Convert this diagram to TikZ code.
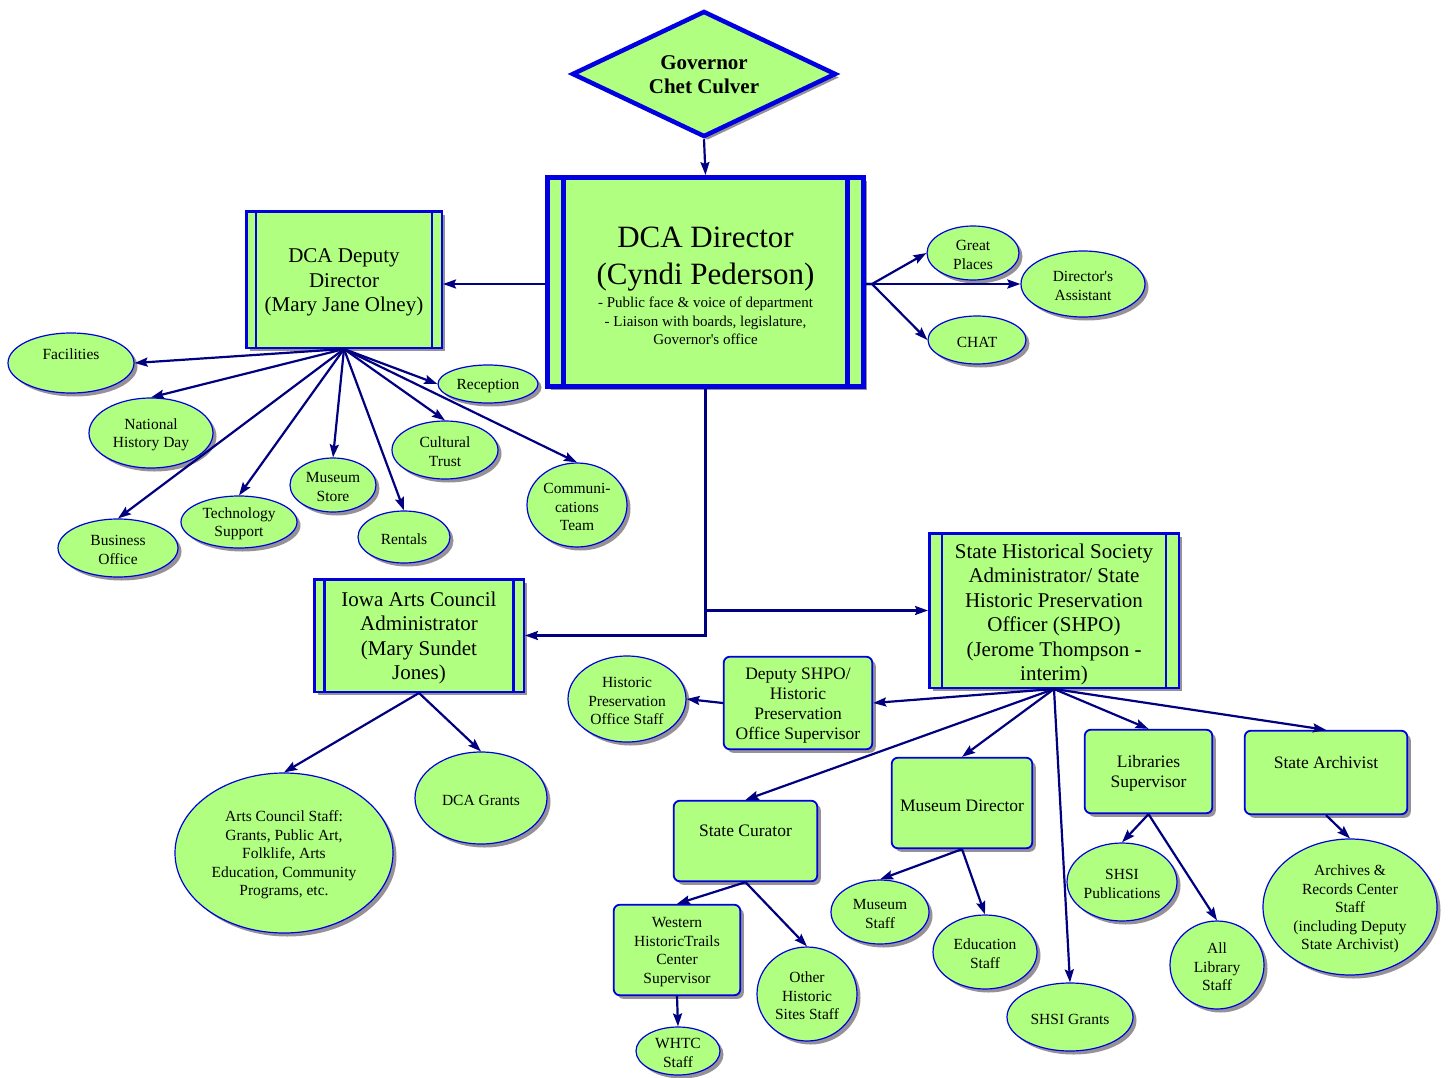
\documentclass[tikz,border=0pt]{standalone}
\usepackage{fontspec}
\setmainfont{Liberation Serif}[Ligatures=TeXOff]
\usetikzlibrary{shapes.geometric,shadows,arrows.meta,calc}
\definecolor{grn}{RGB}{176,255,128}
\definecolor{bdr}{RGB}{0,0,225}
\definecolor{nav}{RGB}{0,0,128}
\definecolor{shd}{RGB}{150,145,150}
\newcommand\setfs[2]{\fontsize{#1}{#2}\selectfont}
\newcommand\upstrut{\rule{0pt}{0.93em}}
\begin{document}
\begin{tikzpicture}[x=1pt,y=-1pt,
 sh/.style={drop shadow={shadow xshift=3.5pt,shadow yshift=-3.5pt,fill=shd,opacity=1}},
 ell/.style={ellipse,draw=bdr,fill=grn,line width=1.2pt,sh,inner sep=0pt,align=center,font=\setfs{15.5}{18.5}},
 rbox/.style={rectangle,rounded corners=6pt,draw=bdr,fill=grn,line width=1.8pt,sh,inner sep=0pt,align=center,font=\setfs{17.5}{20}},
 dbox/.style={rectangle,draw=bdr,fill=grn,line width=2.5pt,sh,inner sep=0pt,align=center,font=\setfs{21}{24.5}},
 bar/.style={draw=bdr,line width=2.5pt},
 conn/.style={draw=nav,line width=2.2pt,-{Stealth[length=13pt,width=9pt,inset=2pt]}},
]
\useasboundingbox (0,0) rectangle (1450,1078);

% Governor
\node[diamond,aspect=2.08,draw=bdr,fill=grn,line width=4.5pt,sh,inner sep=0pt,
  minimum width=264,minimum height=126,align=center,font=\bfseries\setfs{21}{24}]
  (gov) at (704,74) {\rule{0pt}{16pt}Governor\\Chet Culver};

% DCA Director
\node[rectangle,draw=bdr,fill=grn,line width=5pt,sh,inner sep=0pt,minimum width=316,minimum height=209,
  align=center,font=\setfs{31}{37}] (dca) at (705.5,282)
  {\rule{0pt}{34pt}DCA Director\\(Cyndi Pederson)\\[-14pt]{\setfs{15}{18.5}\begin{tabular}[t]{@{}c@{}}- Public face \& voice of department\\- Liaison with boards, legislature,\\Governor's office\end{tabular}}};
\draw[draw=bdr,line width=5pt] ([xshift=18.5pt]dca.north west) -- ([xshift=18.5pt]dca.south west);
\draw[draw=bdr,line width=5pt] ([xshift=-18.5pt]dca.north east) -- ([xshift=-18.5pt]dca.south east);

% double-bar boxes
\node[dbox,minimum width=195.5,minimum height=136.5] (dep) at (344,279.5) {\upstrut DCA Deputy\\Director\\(Mary Jane Olney)};
\draw[bar] ([xshift=11pt]dep.north west) -- ([xshift=11pt]dep.south west);
\draw[bar] ([xshift=-11pt]dep.north east) -- ([xshift=-11pt]dep.south east);

\node[dbox,minimum width=209.5,minimum height=112.5] (iac) at (419,635.5) {\upstrut Iowa Arts Council\\Administrator\\(Mary Sundet\\Jones)};
\draw[bar] ([xshift=11.5pt]iac.north west) -- ([xshift=11.5pt]iac.south west);
\draw[bar] ([xshift=-11.5pt]iac.north east) -- ([xshift=-11.5pt]iac.south east);

\node[dbox,minimum width=249.5,minimum height=154.5] (shs) at (1054,610.5) {\rule{0pt}{22pt}State Historical Society\\Administrator/ State\\Historic Preservation\\Officer (SHPO)\\(Jerome Thompson -\\interim)};
\draw[bar] ([xshift=14pt]shs.north west) -- ([xshift=14pt]shs.south west);
\draw[bar] ([xshift=-14pt]shs.north east) -- ([xshift=-14pt]shs.south east);

% rounded boxes
\node[rbox,minimum width=148.5,minimum height=92.5] (dshpo) at (798,703) {\upstrut Deputy SHPO/\\Historic\\Preservation\\Office Supervisor};
\node[rbox,minimum width=143.5,minimum height=80.5,text depth=25.1pt] (scur) at (745.5,841) {\upstrut State Curator};
\node[rbox,minimum width=140.5,minimum height=90.5] (mdir) at (962,803) {\upstrut Museum Director};
\node[rbox,minimum width=127.5,minimum height=83.5] (lib) at (1148.5,771.5) {\upstrut Libraries\\Supervisor};
\node[rbox,minimum width=162.5,minimum height=83.5,text depth=24.1pt] (sarc) at (1326,772.5) {\upstrut State Archivist};
\node[rbox,minimum width=126.5,minimum height=90.5,font=\setfs{15.5}{18.5}] (west) at (677,950) {\upstrut Western\\HistoricTrails\\Center\\Supervisor};

% ellipses
\node[ell,minimum width=126,minimum height=60,text depth=20.7pt] (fac) at (71,363) {\upstrut Facilities};
\node[ell,minimum width=100,minimum height=38] (rec) at (488,384) {\upstrut Reception};
\node[ell,minimum width=124,minimum height=70] (nhd) at (151,433) {\upstrut National\\History Day};
\node[ell,minimum width=120,minimum height=58] (bus) at (118,548) {\upstrut Business\\Office};
\node[ell,minimum width=116,minimum height=52] (tech) at (239,522) {\upstrut Technology\\Support};
\node[ell,minimum width=86,minimum height=54] (mstore) at (333,485) {\upstrut Museum\\Store};
\node[ell,minimum width=92,minimum height=52] (rent) at (404,537) {\upstrut Rentals};
\node[ell,minimum width=106,minimum height=58] (ctrust) at (445,450) {\upstrut Cultural\\Trust};
\node[ell,minimum width=100,minimum height=84] (comm) at (577,505) {\upstrut Communi-\\cations\\Team};
\node[ell,minimum width=92,minimum height=54] (gp) at (973,253) {\upstrut Great\\Places};
\node[ell,minimum width=124,minimum height=66] (dass) at (1083,284) {\upstrut Director's\\Assistant};
\node[ell,minimum width=98,minimum height=48] (chat) at (977,340) {\upstrut CHAT};
\node[ell,minimum width=118,minimum height=86] (hpos) at (627,699) {\upstrut Historic\\Preservation\\Office Staff};
\node[ell,minimum width=218,minimum height=160] (acs) at (284,853) {\upstrut Arts Council Staff:\\Grants, Public Art,\\Folklife, Arts\\Education, Community\\Programs, etc.};
\node[ell,minimum width=132,minimum height=92] (grants) at (481,798) {\upstrut DCA Grants};
\node[ell,minimum width=98,minimum height=64] (mstaff) at (880,912) {\upstrut Museum\\Staff};
\node[ell,minimum width=104,minimum height=74] (edu) at (985,952) {\upstrut Education\\Staff};
\node[ell,minimum width=126,minimum height=68] (sgrants) at (1070,1017) {\upstrut SHSI Grants};
\node[ell,minimum width=110,minimum height=78] (spub) at (1122,882) {\upstrut SHSI\\Publications};
\node[ell,minimum width=94,minimum height=88] (alib) at (1217,965) {\upstrut All\\Library\\Staff};
\node[ell,minimum width=174,minimum height=136] (arch) at (1350,907) {\upstrut Archives \&\\Records Center\\Staff\\(including Deputy\\State Archivist)};
\node[ell,minimum width=100,minimum height=94] (other) at (807,994) {\upstrut Other\\Historic\\Sites Staff};
\node[ell,minimum width=84,minimum height=48] (whtc) at (678,1051) {\upstrut WHTC\\Staff};

% connectors
\draw[conn] (gov.south) -- (dca.north);
\coordinate (dl) at ([yshift=-2pt]dca.west);
\draw[conn] (dl) -- (dl -| dep.east);
\coordinate (dr) at ([xshift=6pt,yshift=-2pt]dca.east);
\draw[conn] (dca.east |- dr) -- (dr) -- (gp.west);
\draw[conn] (dca.east |- dr) -- (dr) -- (dass.west);
\draw[conn] (dca.east |- dr) -- (dr) -- (chat.west);
\draw[conn] (dca.south) -- (dca.south |- iac.east) -- (iac.east);
\draw[conn] (dca.south |- shs.west) -- (shs.west);

\foreach \t/\a in {fac/east,nhd/north,bus/north,tech/north,mstore/north,rent/north,ctrust/north,comm/north,rec/west}
  \draw[conn] (dep.south) -- (\t.\a);

\foreach \t in {scur,mdir,sgrants,lib,sarc}
  \draw[conn] (shs.south) -- (\t.north);
\draw[conn] (shs.south) -- (dshpo.east);
\draw[conn] (dshpo.west) -- (hpos.east);

\draw[conn] (iac.south) -- (acs.north);
\draw[conn] (iac.south) -- (grants.north);
\draw[conn] (scur.south) -- (west.north);
\draw[conn] (scur.south) -- (other.north);
\draw[conn] (west.south) -- (whtc.north);
\draw[conn] (mdir.south) -- (mstaff.north);
\draw[conn] (mdir.south) -- (edu.north);
\draw[conn] (lib.south) -- (spub.north);
\draw[conn] (lib.south) -- (alib.north);
\draw[conn] (sarc.south) -- (arch.north);
\end{tikzpicture}
\end{document}
